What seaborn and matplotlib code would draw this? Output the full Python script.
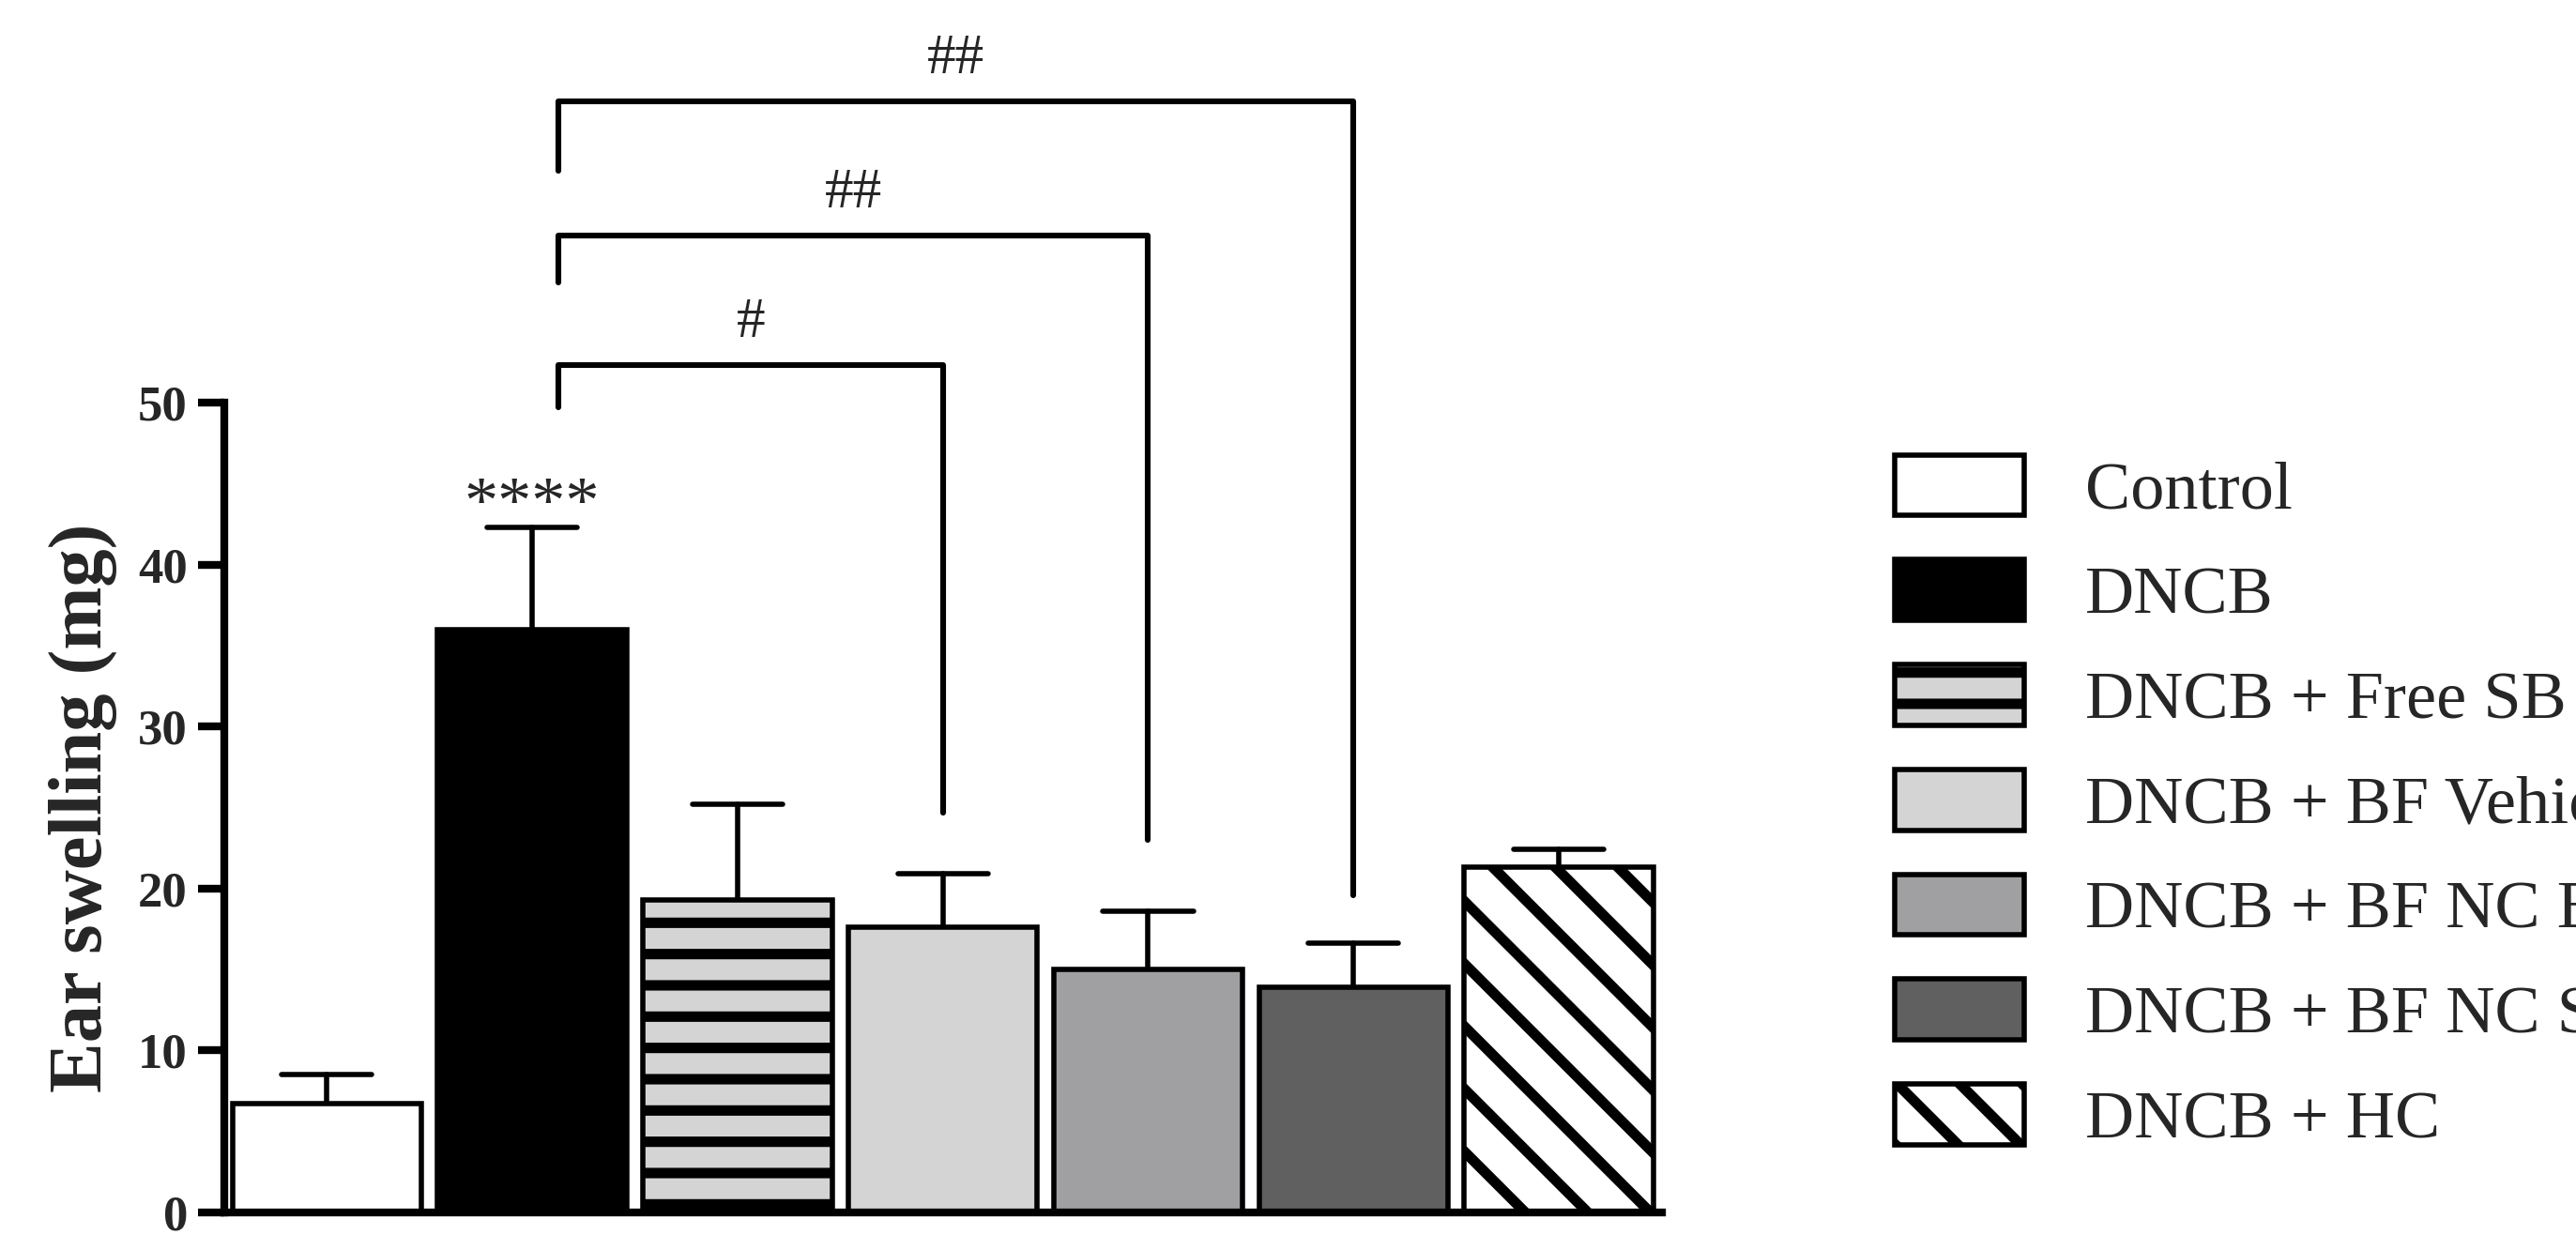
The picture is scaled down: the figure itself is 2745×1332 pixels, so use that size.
import matplotlib
matplotlib.use("Agg")
import matplotlib.pyplot as plt
import seaborn as sns
import pandas as pd
from matplotlib.patches import Patch

groups = ["Control", "DNCB", "DNCB + Free SB", "DNCB + BF Vehicle",
          "DNCB + BF NC B", "DNCB + BF NC SB", "DNCB + HC"]
means = [6.7, 36.0, 19.3, 17.6, 15.0, 13.9, 21.3]
sems = [1.8, 6.3, 5.9, 3.3, 3.6, 2.7, 1.1]
colors = ["#ffffff", "#000000", "#d4d4d4", "#d4d4d4", "#a0a0a3", "#606060", "#ffffff"]
hatches = [None, None, "-", None, None, None, "\\"]
yticks = [0, 10, 20, 30, 40, 50]
# brackets: (left group, right group, top y, left end y, right end y, label)
brackets = [(1, 3, 52.3, 49.7, 24.7, "#"),
            (1, 4, 60.3, 57.4, 23.0, "##"),
            (1, 5, 68.6, 64.3, 19.6, "##")]

sns.set_style("ticks")
plt.rcParams["font.family"] = ["Liberation Serif", "DejaVu Serif"]
plt.rcParams["hatch.linewidth"] = 4
plt.rcParams["hatch.color"] = "black"

fig = plt.figure(figsize=(13.725, 6.66), dpi=200)
ax = fig.add_axes([0.087, 0.03, 0.558, 0.648])
df = pd.DataFrame({"g": groups, "v": means})
sns.barplot(data=df, x="g", y="v", hue="g", palette=colors, legend=False,
            width=0.92, edgecolor="black", linewidth=2, ax=ax)
for p, h in zip(ax.patches, hatches):
    if h:
        p.set_hatch(h)
for i, (m, s) in enumerate(zip(means, sems)):
    ax.plot([i, i], [m, m + s], color="black", lw=2, zorder=0.5)
    ax.plot([i - 0.22, i + 0.22], [m + s, m + s], color="black", lw=2, zorder=3)
ax.set_ylim(0, 50)
ax.set_xlim(-0.5, 6.5)
ax.set_yticks(yticks)
ax.set_yticklabels([str(t) for t in yticks], fontsize=19, fontweight="bold")
ax.set_xticks([])
ax.set_xlabel("")
ax.set_ylabel("Ear swelling (mg)", fontsize=29, fontweight="bold", labelpad=8)
sns.despine(ax=ax, bottom=False)
for sp in ("left", "bottom"):
    ax.spines[sp].set_linewidth(3)
    ax.spines[sp].set_color("black")
ax.tick_params(axis="y", width=3, length=10, color="black", pad=4)

ax.text(1, means[1] + sems[1] - 0.6, "****", ha="center", va="bottom", fontsize=26)
for l, r, top, ly, ry, lab in brackets:
    xl = l + 0.13
    ax.plot([xl, xl, r, r], [ly, top, top, ry], color="black", lw=2.2, clip_on=False)
    ax.text((xl + r) / 2, top + 1.0, lab, ha="center", va="bottom", fontsize=22, clip_on=False)

handles = [Patch(facecolor=c, edgecolor="black", linewidth=2, hatch=h) for c, h in zip(colors, hatches)]
fig.legend(handles, groups, loc="upper left", bbox_to_anchor=(0.712, 0.685), frameon=False,
           fontsize=26, handlelength=1.9, handleheight=1.0, labelspacing=0.55, handletextpad=0.9)
fig.savefig("out.png", dpi=200)
